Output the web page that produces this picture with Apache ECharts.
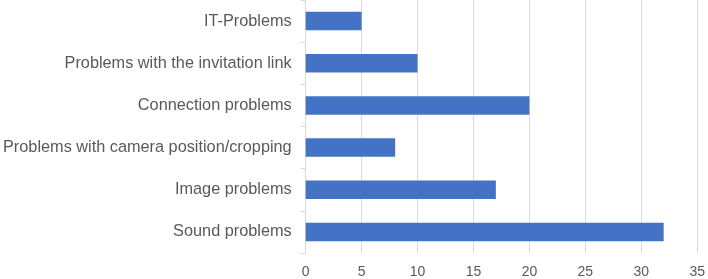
<!DOCTYPE html>
<html>
<head>
<meta charset="utf-8">
<script src="https://cdn.jsdelivr.net/npm/echarts@6/dist/echarts.min.js"></script>
<style>
  html, body { margin: 0; padding: 0; background: #fff; }
  #chart { width: 708px; height: 279px; }
</style>
</head>
<body>
<div id="chart"></div>
<script>
  // categories bottom -> top (category axis starts at bottom)
  var categories = [
    'Sound problems',
    'Image problems',
    'Problems with camera position/cropping',
    'Connection problems',
    'Problems with the invitation link',
    'IT-Problems'
  ]
  var counts = [32, 17, 8, 20, 10, 5]
  var xTicks = [0, 5, 10, 15, 20, 25, 30, 35]

  var chart = echarts.init(document.getElementById('chart'))
  chart.setOption({
    animation: false,
    textStyle: { fontFamily: 'Liberation Sans, Arial, sans-serif' },
    grid: { left: 304, right: 7, top: 0, bottom: 24, containLabel: false },
    xAxis: {
      type: 'value',
      min: xTicks[0],
      max: xTicks[xTicks.length - 1],
      interval: 5,
      axisLine: { show: false },
      axisTick: { show: false },
      axisLabel: {
        color: '#595959', fontSize: 14, margin: 12,
        fontFamily: 'Liberation Sans Narrow, Liberation Sans, sans-serif'
      },
      splitLine: { show: true, lineStyle: { color: '#d9d9d9', width: 1 } }
    },
    yAxis: {
      type: 'category',
      data: categories,
      axisLine: { show: true, lineStyle: { color: '#d9d9d9', width: 1 } },
      axisTick: { show: true, length: 5, lineStyle: { color: '#d9d9d9' } },
      axisLabel: { color: '#595959', fontSize: 16.3, margin: 14 },
      splitLine: { show: false }
    },
    series: [{
      type: 'bar',
      data: counts,
      barCategoryGap: '56%',
      itemStyle: { color: '#4472C4' }
    }]
  })
</script>
</body>
</html>
